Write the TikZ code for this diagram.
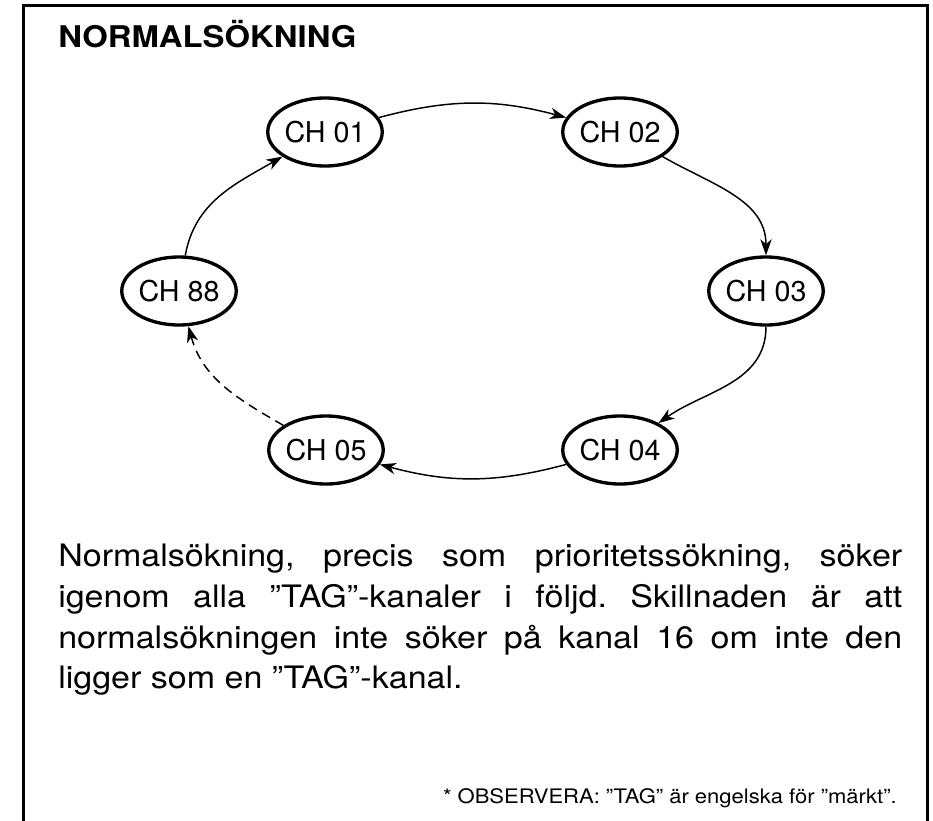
\documentclass[tikz,border=0pt]{standalone}
\usepackage{fontspec}
\setmainfont{TeX Gyre Heros}
\newfontfamily\widefont[FakeStretch=1.1]{TeX Gyre Heros}
\usetikzlibrary{shapes.geometric,arrows.meta}
\frenchspacing
\begin{document}
\begin{tikzpicture}[x=0.75pt,y=0.75pt,
  ch/.style={ellipse, draw, line width=2.5pt, minimum width=77pt, minimum height=51pt, inner sep=0pt, font=\fontsize{21.5}{24}\selectfont},
  link/.style={line width=1.1pt, -{Stealth[length=12pt,width=8.5pt,inset=3.5pt]}},
  frameline/.style={line width=2.6pt},
  bodyline/.style={anchor=base west, inner sep=0pt, font=\widefont\fontsize{23.2}{30}\selectfont},
]
\useasboundingbox (0,0) rectangle (933,-821);
\draw[frameline] (23.5,-830) -- (23.5,-5.3) -- (927.5,-5.3) -- (927.5,-830);

\node[anchor=base west, inner sep=0pt, font=\widefont\bfseries\fontsize{22.4}{26}\selectfont] (title) at (58,-47) {NORMALSÖKNING};

\node[ch] (n01) at (325,-132) {CH 01};
\node[ch] (n02) at (620,-132) {CH 02};
\node[ch] (n03) at (766,-291) {CH 03};
\node[ch] (n04) at (620,-450) {CH 04};
\node[ch] (n05) at (326,-450) {CH 05};
\node[ch] (n88) at (179,-291) {CH 88};

\draw[link] (n01) to[out=15,in=165] (n02);
\draw[link] (n02) to[out=-30,in=90] (n03);
\draw[link] (n03) to[out=-90,in=35] (n04);
\draw[link] (n04) to[out=195,in=-15] (n05);
\draw[link, dash pattern=on 7pt off 4.5pt] (n05) to[out=150,in=-75] (n88);
\draw[link] (n88) to[out=80,in=210] (n01);

\node[bodyline] (l1) at (58,-566.5) {\makebox[633pt][s]{Normalsökning, precis som prioritetssökning, söker}};
\node[bodyline] (l2) at (58,-607) {\makebox[633pt][s]{igenom alla ”TAG”-kanaler i följd. Skillnaden är att}};
\node[bodyline] (l3) at (58,-648) {\makebox[633pt][s]{normalsökningen inte söker på kanal 16 om inte den}};
\node[bodyline] (l4) at (58,-688) {ligger som en ”TAG”-kanal.};

\node[anchor=base east, inner sep=0pt, font=\widefont\fontsize{15}{18}\selectfont] (foot) at (897,-803) {* OBSERVERA: ”TAG” är engelska för ”märkt”.};
\end{tikzpicture}
\end{document}
